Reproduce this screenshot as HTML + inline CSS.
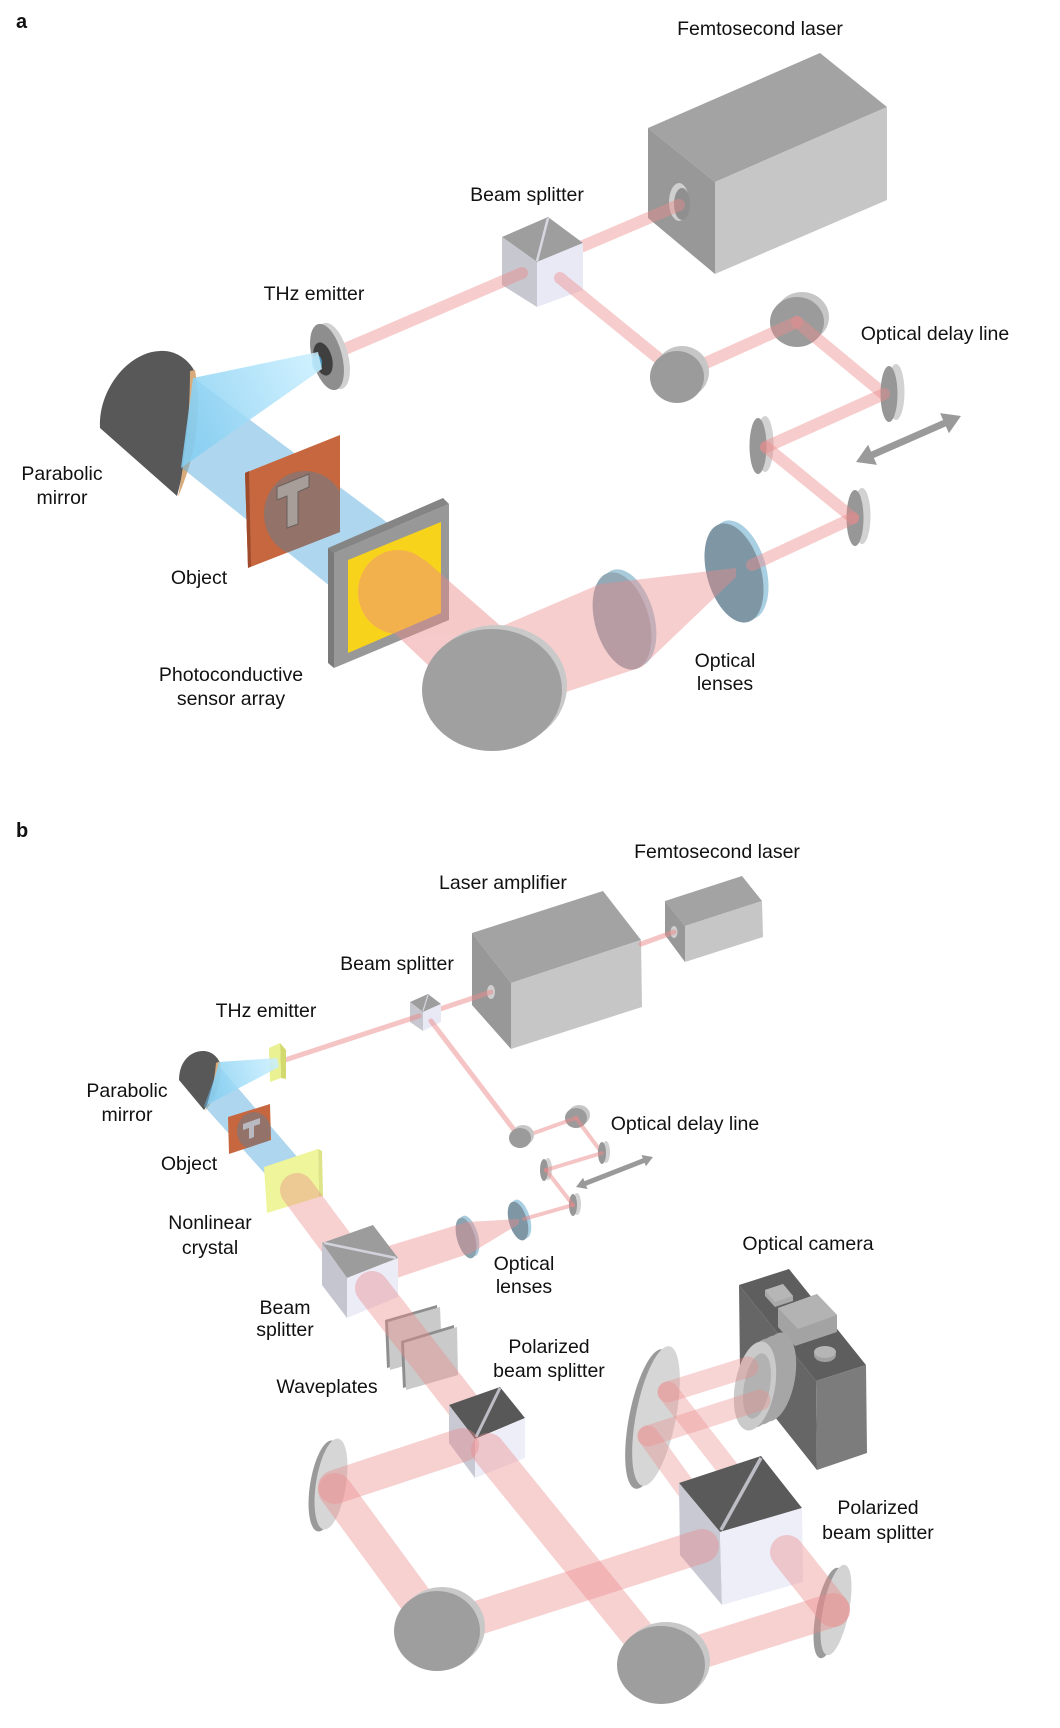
<!DOCTYPE html>
<html>
<head>
<meta charset="utf-8">
<style>
html,body{margin:0;padding:0;background:#fff;}
svg{display:block;}
text{font-family:"Liberation Sans",Arial,sans-serif;font-size:19.5px;fill:#111;}
.bold{font-weight:bold;font-size:20px;}
.rb{stroke:#ec8a8a;stroke-opacity:.44;stroke-width:12;stroke-linecap:round;fill:none;}
.tb{stroke:#ec8a8a;stroke-opacity:.5;stroke-width:5;stroke-linecap:round;fill:none;}
.db{stroke:#ec8a8a;stroke-opacity:.5;stroke-width:4;stroke-linecap:round;fill:none;}
.wb{stroke:#ec8a8a;stroke-opacity:.4;stroke-width:34;stroke-linecap:round;fill:none;}
.mb{stroke:#ec8a8a;stroke-opacity:.36;stroke-width:21;stroke-linecap:round;fill:none;}
</style>
</head>
<body>
<svg width="1060" height="1728" viewBox="0 0 1060 1728" xmlns="http://www.w3.org/2000/svg">
<defs>
  <linearGradient id="coneA" x1="318" y1="360" x2="185" y2="420" gradientUnits="userSpaceOnUse">
    <stop offset="0" stop-color="#c9efff"/><stop offset="1" stop-color="#86cff2"/>
  </linearGradient>
  <linearGradient id="coneB" x1="277" y1="1063" x2="210" y2="1085" gradientUnits="userSpaceOnUse">
    <stop offset="0" stop-color="#c9efff"/><stop offset="1" stop-color="#86cff2"/>
  </linearGradient>
  <clipPath id="objA"><polygon points="245,473 340,435 340,532 248,568"/></clipPath>
  <clipPath id="objB"><polygon points="228,1117 270,1104 271,1140 229,1154"/></clipPath>
</defs>
<rect width="1060" height="1728" fill="#fff"/>

<!-- ================= PANEL A ================= -->
<polygon points="648,128 820,53 887,107 715,182" fill="#a3a3a3"/>
<polygon points="648,128 715,182 715,274 648,218" fill="#989898"/>
<polygon points="715,182 887,107 887,200 715,274" fill="#c6c6c6"/>
<ellipse cx="679" cy="202" rx="10" ry="19" fill="#cfcfcf"/>
<ellipse cx="682" cy="204" rx="8" ry="16" fill="#8f8f8f"/>

<line class="rb" x1="679" y1="205" x2="583" y2="246"/>

<polygon points="502,237 548,217 583,243 537,262" fill="#9e9e9e"/>
<polygon points="502,237 537,262 537,307 502,285" fill="#c7c7cf"/>
<polygon points="537,262 583,243 583,290 537,307" fill="#e9e9f5"/>
<line x1="548" y1="218" x2="537" y2="261" stroke="#d8d8e2" stroke-width="2.5"/>

<line class="rb" x1="522" y1="273" x2="338" y2="352"/>
<line class="rb" x1="560" y1="278" x2="679" y2="375"/>

<ellipse cx="802" cy="317" rx="27" ry="25" fill="#c6c6c6"/>
<ellipse cx="797" cy="322" rx="27" ry="25" fill="#9b9b9b"/>
<line class="rb" x1="679" y1="375" x2="797" y2="322"/>
<line class="rb" x1="797" y1="322" x2="884" y2="394"/>
<ellipse cx="682" cy="372" rx="27" ry="26" fill="#c6c6c6"/>
<ellipse cx="677" cy="377" rx="27" ry="26" fill="#9b9b9b"/>

<ellipse cx="896" cy="392" rx="8.5" ry="28" fill="#d2d2d2"/>
<ellipse cx="889" cy="394" rx="8.5" ry="28" fill="#979797"/>
<ellipse cx="765" cy="444" rx="8.5" ry="28" fill="#d2d2d2"/>
<ellipse cx="758" cy="446" rx="8.5" ry="28" fill="#979797"/>
<ellipse cx="862" cy="516" rx="8.5" ry="28" fill="#d2d2d2"/>
<ellipse cx="855" cy="518" rx="8.5" ry="28" fill="#979797"/>
<line class="rb" x1="884" y1="394" x2="766" y2="447"/>
<line class="rb" x1="766" y1="447" x2="853" y2="518"/>

<polygon points="856,462 876.9,464.9 873.9,458.0 945.9,426.4 948.9,433.3 961,416 940.1,413.1 943.1,420.0 871.1,451.6 868.1,444.7" fill="#9a9a9a"/>

<ellipse cx="739" cy="570" rx="27" ry="51" transform="rotate(-16 739 570)" fill="#a9cfe2"/>
<ellipse cx="734" cy="573" rx="27" ry="51" transform="rotate(-16 734 573)" fill="#7f97a4"/>
<ellipse cx="627" cy="618" rx="27" ry="50" transform="rotate(-16 627 618)" fill="#a9cadb"/>
<ellipse cx="622" cy="621" rx="27" ry="50" transform="rotate(-16 622 621)" fill="#93a9b6"/>
<line class="rb" x1="853" y1="518" x2="752" y2="565"/>
<polygon points="736,568 600,584 500,627 563,693 642,667 736,577" fill="#ec8a8a" fill-opacity="0.42"/>

<ellipse cx="333" cy="356" rx="15" ry="34" transform="rotate(-15 333 356)" fill="#d0d0d0"/>
<ellipse cx="327" cy="357" rx="15" ry="34" transform="rotate(-15 327 357)" fill="#8e8e8e"/>
<ellipse cx="323" cy="359" rx="9" ry="17" transform="rotate(-15 323 359)" fill="#3f3f3f"/>
<ellipse cx="317" cy="363" rx="5" ry="8" fill="#4aa8dc" fill-opacity="0.8"/>

<path d="M100,428 C98,390 128,352 160,351 C176,350 189,360 195,372 Q192,440 177,496 Z" fill="#585858"/>
<path d="M195,370 Q206,432 178,497 Q190,432 190,371 Z" fill="#d9aa7a"/>

<polygon points="194,378 420,547 360,610 182,468" fill="#6cb4e0" fill-opacity="0.55"/>
<polygon points="318,352 193,378 181,468 322,369" fill="url(#coneA)" fill-opacity="0.85"/>

<polygon points="245,473 340,435 340,532 248,568" fill="#c6673f"/>
<polygon points="245,473 249,471 251,566 248,568" fill="#9e4b2b"/>
<ellipse cx="305" cy="514" rx="41" ry="43" fill="#6f7a85" fill-opacity="0.6" clip-path="url(#objA)"/>
<polygon points="277,487 309,474 309,487 298,492 298,524 287,528 287,496 277,500" fill="#a79d99" stroke="#6a605c" stroke-width="1"/>

<polygon points="328,548 443,498 449,504 334,553" fill="#858585"/>
<polygon points="328,548 334,553 334,668 328,663" fill="#7a7a7a"/>
<polygon points="334,553 449,504 449,620 334,668" fill="#989898"/>
<polygon points="348,560 441,522 441,613 348,653" fill="#f8d31b"/>

<g opacity="0.45" fill="#ec8a8a">
  <polygon points="503,628 425,560 372,612 430,667"/>
  <ellipse cx="398" cy="592" rx="40" ry="42"/>
</g>

<ellipse cx="497" cy="686" rx="70" ry="61" fill="#c9c9c9"/>
<ellipse cx="492" cy="690" rx="70" ry="61" fill="#a0a0a0"/>

<text class="bold" x="16" y="28">a</text>
<text x="760" y="35" text-anchor="middle">Femtosecond laser</text>
<text x="527" y="201" text-anchor="middle">Beam splitter</text>
<text x="314" y="300" text-anchor="middle">THz emitter</text>
<text x="935" y="340" text-anchor="middle">Optical delay line</text>
<text x="62" y="480" text-anchor="middle">Parabolic</text>
<text x="62" y="504" text-anchor="middle">mirror</text>
<text x="199" y="584" text-anchor="middle">Object</text>
<text x="231" y="681" text-anchor="middle">Photoconductive</text>
<text x="231" y="705" text-anchor="middle">sensor array</text>
<text x="725" y="667" text-anchor="middle">Optical</text>
<text x="725" y="690" text-anchor="middle">lenses</text>

<!-- ================= PANEL B ================= -->
<polygon points="665,901 742,876 762,901 685,926" fill="#a3a3a3"/>
<polygon points="665,901 685,926 685,962 665,935" fill="#989898"/>
<polygon points="685,926 762,901 763,937 685,962" fill="#c6c6c6"/>
<ellipse cx="674" cy="932" rx="3.5" ry="6" fill="#cfcfcf"/>
<polygon points="472,933 603,891 641,940 511,983" fill="#a3a3a3"/>
<polygon points="472,933 511,983 511,1049 472,1005" fill="#989898"/>
<polygon points="511,983 641,940 642,1007 511,1049" fill="#c6c6c6"/>
<ellipse cx="491" cy="992" rx="4" ry="7" fill="#cfcfcf"/>

<line class="tb" x1="674" y1="932" x2="641" y2="944"/>
<line class="tb" x1="491" y1="992" x2="440" y2="1009"/>

<polygon points="410,1002 428,994 441,1004 423,1012" fill="#9e9e9e"/>
<polygon points="410,1002 423,1012 423,1031 410,1022" fill="#c7c7cf"/>
<polygon points="423,1012 441,1004 441,1022 423,1031" fill="#e9e9f5"/>
<line x1="428" y1="995" x2="423" y2="1011" stroke="#d8d8e2" stroke-width="1.2"/>

<line class="tb" x1="419" y1="1016" x2="282" y2="1061"/>
<line class="tb" x1="431" y1="1021" x2="518" y2="1135"/>

<ellipse cx="579" cy="1115" rx="11" ry="10" fill="#c6c6c6"/>
<ellipse cx="576" cy="1118" rx="11" ry="10" fill="#9b9b9b"/>
<line class="db" x1="520" y1="1138" x2="576" y2="1118"/>
<line class="db" x1="576" y1="1118" x2="602" y2="1153"/>
<ellipse cx="523" cy="1135" rx="11" ry="10" fill="#c6c6c6"/>
<ellipse cx="520" cy="1138" rx="11" ry="10" fill="#9b9b9b"/>
<ellipse cx="606" cy="1152" rx="4" ry="11" fill="#d2d2d2"/>
<ellipse cx="602" cy="1153" rx="4" ry="11" fill="#979797"/>
<ellipse cx="548" cy="1169" rx="4" ry="11" fill="#d2d2d2"/>
<ellipse cx="544" cy="1170" rx="4" ry="11" fill="#979797"/>
<ellipse cx="577" cy="1204" rx="4" ry="11" fill="#d2d2d2"/>
<ellipse cx="573" cy="1205" rx="4" ry="11" fill="#979797"/>
<line class="db" x1="602" y1="1153" x2="546" y2="1170"/>
<line class="db" x1="546" y1="1170" x2="573" y2="1205"/>
<polygon points="576,1187 587.5,1189.0 586.2,1185.7 644.6,1162.9 645.9,1166.2 653,1157 641.5,1155.0 642.8,1158.3 584.4,1181.1 583.1,1177.8" fill="#9a9a9a"/>

<ellipse cx="521" cy="1219" rx="9" ry="20" transform="rotate(-16 521 1219)" fill="#a9cfe2"/>
<ellipse cx="518" cy="1221" rx="9" ry="20" transform="rotate(-16 518 1221)" fill="#7f97a4"/>
<ellipse cx="469" cy="1236" rx="9" ry="21" transform="rotate(-16 469 1236)" fill="#a9cadb"/>
<ellipse cx="466" cy="1238" rx="9" ry="21" transform="rotate(-16 466 1238)" fill="#8aa1ae"/>
<line class="db" x1="573" y1="1205" x2="524" y2="1219"/>
<polygon points="519,1219 467,1222 385,1247 385,1282 471,1253 519,1224" fill="#ec8a8a" fill-opacity="0.42"/>

<polygon points="280,1043 286,1050 286,1079 281,1078" fill="#d2da6e"/>
<polygon points="269,1048 280,1043 281,1078 270,1082" fill="#e9f192"/>

<path d="M179,1080 C179,1062 190,1051 203,1051 C211,1051 217,1056 220,1063 Q218,1090 204,1110 Z" fill="#585858"/>
<path d="M220,1061 Q224,1088 205,1111 Q214,1088 216,1063 Z" fill="#d9aa7a"/>
<polygon points="219,1066 305,1166 275,1185 204,1106" fill="#6cb4e0" fill-opacity="0.55"/>
<polygon points="277,1058 219,1062 207,1105 279,1067" fill="url(#coneB)" fill-opacity="0.85"/>

<polygon points="228,1117 270,1104 271,1140 229,1154" fill="#c6673f"/>
<ellipse cx="254" cy="1131" rx="17" ry="19" fill="#6f7a85" fill-opacity="0.6" clip-path="url(#objB)"/>
<polygon points="243,1124 260,1118 260,1124 254,1126 254,1137 249,1139 249,1128 243,1130" fill="#b9b9c1"/>

<polygon points="318,1149 322,1151 323,1196 319,1197" fill="#dde387"/>
<polygon points="264,1167 318,1149 319,1197 267,1213" fill="#eff59b"/>

<line class="wb" x1="297" y1="1190" x2="343" y2="1252"/>

<polygon points="322,1243 373,1225 398,1258 347,1278" fill="#9c9c9c"/>
<polygon points="322,1243 347,1278 347,1318 322,1285" fill="#c5c5d0"/>
<polygon points="347,1278 398,1258 398,1297 347,1318" fill="#ececf7"/>
<line x1="324" y1="1243" x2="396" y2="1258" stroke="#d2d2dc" stroke-width="2.5"/>

<polygon points="385,1320 437,1305 439,1353 387,1368" fill="#8e8e8e"/>
<polygon points="388,1322 440,1307 442,1355 390,1370" fill="#cacaca"/>
<polygon points="401,1341 454,1325 455,1373 403,1388" fill="#8e8e8e"/>
<polygon points="404,1343 457,1327 458,1375 406,1390" fill="#cacaca"/>

<line class="wb" x1="372" y1="1288" x2="490" y2="1440"/>

<polygon points="449,1405 500,1387 525,1418 475,1439" fill="#585858"/>
<polygon points="449,1405 475,1439 475,1478 449,1443" fill="#c9c9d4"/>
<polygon points="475,1439 525,1418 525,1458 475,1478" fill="#eeeef9"/>
<line x1="500" y1="1388" x2="476" y2="1437" stroke="#bdbdc5" stroke-width="3"/>

<ellipse cx="325" cy="1486" rx="15" ry="46" transform="rotate(9 325 1486)" fill="#9a9a9a"/>
<ellipse cx="331" cy="1484" rx="15" ry="46" transform="rotate(9 331 1484)" fill="#d6d6d6"/>
<line class="wb" x1="462" y1="1445" x2="335" y2="1487"/>
<line class="wb" x1="488" y1="1450" x2="660" y2="1662"/>

<polygon points="739,1285 789,1269 866,1365 816,1381" fill="#5e5e5e"/>
<polygon points="739,1285 816,1381 817,1470 740,1373" fill="#666666"/>
<polygon points="816,1381 866,1365 867,1453 817,1470" fill="#7c7c7c"/>
<polygon points="765,1290 783,1284 793,1296 793,1301 775,1307 765,1296" fill="#a9a9a9"/>
<polygon points="765,1290 783,1284 793,1296 775,1302" fill="#b6b6b6"/>
<polygon points="778,1308 817,1294 837,1315 837,1332 795,1346 778,1327" fill="#a3a3a3"/>
<polygon points="778,1308 817,1294 837,1315 798,1329" fill="#b3b3b3"/>
<ellipse cx="825" cy="1355" rx="11" ry="7" fill="#a0a0a0"/>
<ellipse cx="825" cy="1352" rx="11" ry="6" fill="#b5b5b5"/>
<ellipse cx="775" cy="1377" rx="20" ry="45" transform="rotate(10 775 1377)" fill="#a6a6a6"/>
<ellipse cx="768" cy="1380" rx="20" ry="45" transform="rotate(10 768 1380)" fill="#a6a6a6"/>
<ellipse cx="761" cy="1383" rx="20" ry="45" transform="rotate(10 761 1383)" fill="#a6a6a6"/>
<ellipse cx="755" cy="1386" rx="20" ry="45" transform="rotate(10 755 1386)" fill="#cacaca"/>
<ellipse cx="757" cy="1386" rx="13" ry="33" transform="rotate(10 757 1386)" fill="#b2b2b2"/>

<ellipse cx="649" cy="1419" rx="20" ry="71" transform="rotate(11 649 1419)" fill="#9a9a9a"/>
<ellipse cx="656" cy="1416" rx="20" ry="71" transform="rotate(11 656 1416)" fill="#d6d6d6"/>
<line class="mb" x1="668" y1="1392" x2="748" y2="1367"/>
<line class="mb" x1="648" y1="1436" x2="760" y2="1400"/>
<line class="mb" x1="668" y1="1392" x2="732" y2="1474"/>
<line class="mb" x1="648" y1="1436" x2="690" y2="1494"/>

<polygon points="679,1483 761,1456 802,1508 720,1532" fill="#5a5a5a"/>
<polygon points="679,1483 720,1532 722,1605 680,1555" fill="#c9c9d4"/>
<polygon points="720,1532 802,1508 803,1582 722,1605" fill="#eeeef9"/>
<line x1="761" y1="1458" x2="721" y2="1530" stroke="#bdbdc5" stroke-width="3.5"/>

<ellipse cx="829" cy="1613" rx="13" ry="46" transform="rotate(11 829 1613)" fill="#9b9b9b"/>
<ellipse cx="836" cy="1610" rx="13" ry="46" transform="rotate(11 836 1610)" fill="#d3d3d3"/>

<line class="wb" x1="335" y1="1490" x2="438" y2="1630"/>
<line class="wb" x1="440" y1="1630" x2="702" y2="1546"/>
<line class="wb" x1="662" y1="1664" x2="833" y2="1610"/>
<line class="wb" x1="833" y1="1610" x2="787" y2="1552"/>

<ellipse cx="442" cy="1627" rx="43" ry="40" fill="#c8c8c8"/>
<ellipse cx="437" cy="1631" rx="43" ry="40" fill="#9e9e9e"/>
<ellipse cx="666" cy="1661" rx="44" ry="39" fill="#c8c8c8"/>
<ellipse cx="661" cy="1665" rx="44" ry="39" fill="#9e9e9e"/>

<text class="bold" x="16" y="837">b</text>
<text x="717" y="858" text-anchor="middle">Femtosecond laser</text>
<text x="503" y="889" text-anchor="middle">Laser amplifier</text>
<text x="397" y="970" text-anchor="middle">Beam splitter</text>
<text x="266" y="1017" text-anchor="middle">THz emitter</text>
<text x="127" y="1097" text-anchor="middle">Parabolic</text>
<text x="127" y="1121" text-anchor="middle">mirror</text>
<text x="189" y="1170" text-anchor="middle">Object</text>
<text x="685" y="1130" text-anchor="middle">Optical delay line</text>
<text x="210" y="1229" text-anchor="middle">Nonlinear</text>
<text x="210" y="1254" text-anchor="middle">crystal</text>
<text x="808" y="1250" text-anchor="middle">Optical camera</text>
<text x="524" y="1270" text-anchor="middle">Optical</text>
<text x="524" y="1293" text-anchor="middle">lenses</text>
<text x="285" y="1314" text-anchor="middle">Beam</text>
<text x="285" y="1336" text-anchor="middle">splitter</text>
<text x="327" y="1393" text-anchor="middle">Waveplates</text>
<text x="549" y="1353" text-anchor="middle">Polarized</text>
<text x="549" y="1377" text-anchor="middle">beam splitter</text>
<text x="878" y="1514" text-anchor="middle">Polarized</text>
<text x="878" y="1539" text-anchor="middle">beam splitter</text>
</svg>
</body>
</html>
